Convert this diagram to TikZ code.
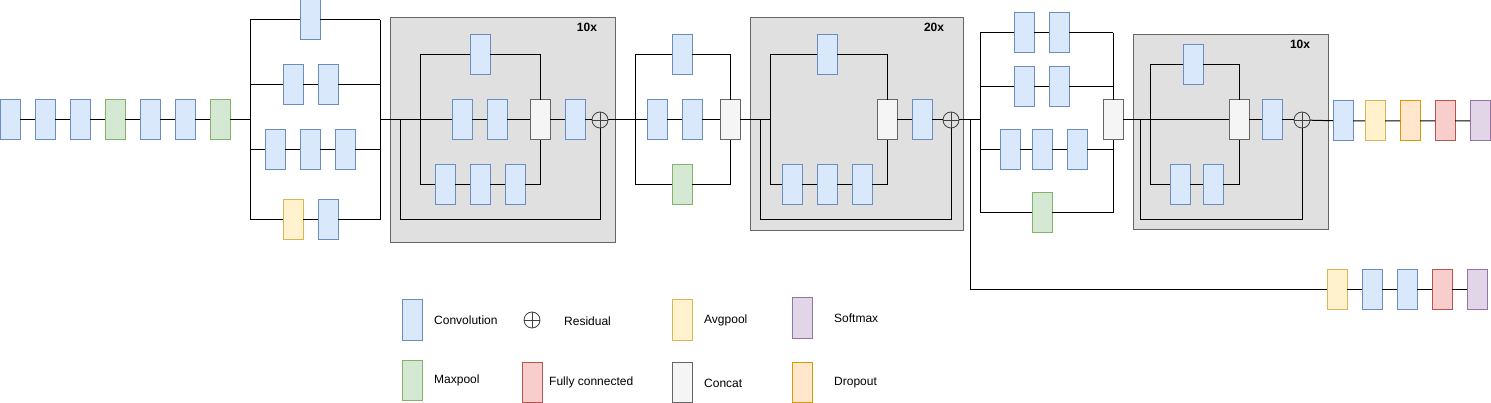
\documentclass[tikz,border=0pt]{standalone}
\usepackage{fontspec}
\setmainfont{Liberation Sans}
\usetikzlibrary{positioning}
\definecolor{convfill}{HTML}{DAE8FC}
\definecolor{convline}{HTML}{6C8EBF}
\definecolor{maxfill}{HTML}{D5E8D4}
\definecolor{maxline}{HTML}{82B366}
\definecolor{avgfill}{HTML}{FFF2CC}
\definecolor{avgline}{HTML}{D6B656}
\definecolor{densefill}{HTML}{F8CECC}
\definecolor{denseline}{HTML}{B85450}
\definecolor{softfill}{HTML}{E1D5E7}
\definecolor{softline}{HTML}{9673A6}
\definecolor{dropfill}{HTML}{FFE6CC}
\definecolor{dropline}{HTML}{D79B00}
\definecolor{catfill}{HTML}{F5F5F5}
\definecolor{catline}{HTML}{666666}
\definecolor{groupfill}{HTML}{E0E0E0}

\begin{document}
\begin{tikzpicture}[
  x=1pt, y=-1pt,
  node distance = 15pt,
  layer/.style = {
    rectangle, minimum width=20pt, minimum height=40pt,
    inner sep=0pt, outer sep=0pt, line width=1pt
  },
  conv/.style = {layer, draw=convline, fill=convfill},
  maxpool/.style = {layer, draw=maxline, fill=maxfill},
  avgpool/.style = {layer, draw=avgline, fill=avgfill},
  dense/.style = {layer, draw=denseline, fill=densefill},
  softmax/.style = {layer, draw=softline, fill=softfill},
  dropout/.style = {layer, draw=dropline, fill=dropfill},
  concat/.style = {layer, draw=catline, fill=catfill},
  res/.style = {
    circle, draw=black!75, line width=0.8pt, minimum size=16pt,
    inner sep=0pt, outer sep=0pt,
    path picture={\draw[black!75, line width=0.8pt]
      (path picture bounding box.north) -- (path picture bounding box.south)
      (path picture bounding box.west) -- (path picture bounding box.east);}
  },
  group/.style = {draw=catline, fill=groupfill, line width=1pt},
  rep/.style = {font=\fontsize{12}{14}\selectfont\bfseries, inner sep=0pt},
  lbl/.style = {font=\fontsize{12}{14}\selectfont, inner sep=0pt},
  wire/.style = {line width=1pt}
]
\useasboundingbox (0,0) rectangle (1491,403);

% repeated blocks
\draw[group] (390,18) rectangle (615,243);
\draw[group] (750,18) rectangle (963,231);
\draw[group] (1133,35) rectangle (1328,230);
\node[rep] (rb) at (587,27) {10x};
\node[rep] (rd) at (934,27) {20x};
\node[rep] (rf) at (1300,44) {10x};

% stem
\node[conv] (s1) at (10,120) {};
\node[conv,    right=of s1] (s2) {};
\node[conv,    right=of s2] (s3) {};
\node[maxpool, right=of s3] (s4) {};
\node[conv,    right=of s4] (s5) {};
\node[conv,    right=of s5] (s6) {};
\node[maxpool, right=of s6] (s7) {};

% inception A (stem)
\coordinate (aTL) at (250,20);  \coordinate (aTR) at (380,20);
\coordinate (a2L) at (250,85);  \coordinate (a2R) at (380,85);
\coordinate (a3L) at (250,150); \coordinate (a3R) at (380,150);
\coordinate (aBL) at (250,220); \coordinate (aBR) at (380,220);
\coordinate (aIn) at (250,120); \coordinate (aOut) at (380,120);
\node[conv] (a1) at (310,20) {};
\node[conv] (a21) at (293,85) {};
\node[conv, right=of a21] (a22) {};
\node[conv] (a31) at (275,150) {};
\node[conv, right=of a31] (a32) {};
\node[conv, right=of a32] (a33) {};
\node[avgpool] (a41) at (293,220) {};
\node[conv, right=of a41] (a42) {};

% residual inception B (10x)
\coordinate (bRes) at (400,120); \coordinate (bResB) at (400,220);
\coordinate (bLT) at (420,55);   \coordinate (bLB) at (420,185);
\coordinate (bRT) at (540,55);   \coordinate (bRB) at (540,185);
\node[conv] (b1) at (480,55) {};
\node[conv] (b21) at (462,120) {};
\node[conv,   right=of b21] (b22) {};
\node[concat, right=23pt of b22] (bcat) {};
\node[conv,   right=of bcat] (b23) {};
\node[res,    right=7pt of b23] (bsum) {};
\coordinate (bResR) at (600,220);
\node[conv] (b31) at (445,185) {};
\node[conv, right=of b31] (b32) {};
\node[conv, right=of b32] (b33) {};

% reduction C
\coordinate (cLT) at (635,55); \coordinate (cLB) at (635,185);
\coordinate (cRT) at (730,55); \coordinate (cRB) at (730,185);
\node[conv] (c1) at (682,55) {};
\node[conv] (c21) at (657,120) {};
\node[conv,   right=of c21] (c22) {};
\node[concat, right=18pt of c22] (ccat) {};
\node[maxpool] (c3) at (682,185) {};

% residual inception D (20x)
\coordinate (dRes) at (760,120); \coordinate (dResB) at (760,220);
\coordinate (dL) at (770,120);
\coordinate (dLT) at (770,55);   \coordinate (dLB) at (770,185);
\coordinate (dRT) at (887,55);   \coordinate (dRB) at (887,185);
\node[conv] (d1) at (827,55) {};
\node[conv] (d31) at (792,185) {};
\node[conv, right=of d31] (d32) {};
\node[conv, right=of d32] (d33) {};
\node[concat] (dcat) at (887,120) {};
\node[conv, right=of dcat] (d2) {};
\node[res,  right=11pt of d2] (dsum) {};
\coordinate (dResR) at (951,220);

% reduction E
\coordinate (eIn) at (980,120);
\coordinate (eLT) at (980,33);  \coordinate (eR1) at (1113,33);
\coordinate (e2L) at (980,87);  \coordinate (eR2) at (1113,87);
\coordinate (e3L) at (980,150); \coordinate (eR3) at (1113,150);
\coordinate (eLB) at (980,213); \coordinate (eR4) at (1113,213);
\node[conv] (e11) at (1024,33) {};
\node[conv, right=of e11] (e12) {};
\node[conv] (e21) at (1024,87) {};
\node[conv, right=of e21] (e22) {};
\node[conv] (e31) at (1010,150) {};
\node[conv, right=12pt of e31] (e32) {};
\node[conv, right=of e32] (e33) {};
\node[maxpool] (e4) at (1042,213) {};
\node[concat] (ecat) at (1113,120) {};

% residual inception F (10x)
\coordinate (fRes) at (1140,120); \coordinate (fResB) at (1140,220);
\coordinate (fLT) at (1150,65);   \coordinate (fLB) at (1150,185);
\coordinate (fRT) at (1239,65);   \coordinate (fRB) at (1239,185);
\node[conv] (f1) at (1193,65) {};
\node[conv] (f31) at (1180,185) {};
\node[conv, right=13pt of f31] (f32) {};
\node[concat] (fcat) at (1239,120) {};
\node[conv, right=13pt of fcat] (f2) {};
\node[res,  right=12pt of f2] (fsum) {};
\coordinate (fResR) at (1302,220);

% main head
\node[conv] (h1) at (1343,121) {};
\node[avgpool, right=12pt of h1] (h2) {};
\node[dropout, right=of h2] (h3) {};
\node[dense,   right=of h3] (h4) {};
\node[softmax, right=of h4] (h5) {};

% auxiliary head
\coordinate (auxT) at (970,120); \coordinate (auxB) at (970,290);
\node[avgpool] (x1) at (1337,290) {};
\node[conv,    right=of x1] (x2) {};
\node[conv,    right=of x2] (x3) {};
\node[dense,   right=of x3] (x4) {};
\node[softmax, right=of x4] (x5) {};

% wires
\draw[wire] (s1)--(s2)--(s3)--(s4)--(s5)--(s6)--(s7)--(aIn);
\draw[wire] (aTL)--(aBL); \draw[wire] (aTR)--(aBR);
\draw[wire] (aTL)--(a1)--(aTR);
\draw[wire] (a2L)--(a21)--(a22)--(a2R);
\draw[wire] (a3L)--(a31)--(a32)--(a33)--(a3R);
\draw[wire] (aBL)--(a41)--(a42)--(aBR);

\draw[wire] (aOut)--(b21)--(b22)--(bcat)--(b23)--(bsum);
\draw[wire] (bLT)--(bLB);
\draw[wire] (bLT)--(b1)--(bRT)--(bcat);
\draw[wire] (bLB)--(b31)--(b32)--(b33)--(bRB)--(bcat);
\draw[wire] (bRes)--(bResB)--(bResR)--(bsum);

\draw[wire] (bsum)--(c21)--(c22)--(ccat);
\draw[wire] (cLT)--(cLB);
\draw[wire] (cLT)--(c1)--(cRT)--(ccat);
\draw[wire] (cLB)--(c3)--(cRB)--(ccat);

\draw[wire] (ccat)--(dL);
\draw[wire] (dLT)--(dLB);
\draw[wire] (dLT)--(d1)--(dRT)--(dcat);
\draw[wire] (dLB)--(d31)--(d32)--(d33)--(dRB)--(dcat);
\draw[wire] (dcat)--(d2)--(dsum);
\draw[wire] (dRes)--(dResB)--(dResR)--(dsum);

\draw[wire] (dsum)--(eIn);
\draw[wire] (eLT)--(eLB);
\draw[wire] (eR1)--(ecat); \draw[wire] (ecat)--(eR4);
\draw[wire] (eLT)--(e11)--(e12)--(eR1);
\draw[wire] (e2L)--(e21)--(e22)--(eR2);
\draw[wire] (e3L)--(e31)--(e32)--(e33)--(eR3);
\draw[wire] (eLB)--(e4)--(eR4);

\draw[wire] (ecat)--(fcat)--(f2)--(fsum);
\draw[wire] (fLT)--(fLB);
\draw[wire] (fLT)--(f1)--(fRT)--(fcat);
\draw[wire] (fLB)--(f31)--(f32)--(fRB)--(fcat);
\draw[wire] (fRes)--(fResB)--(fResR)--(fsum);

\draw[wire] (fsum)--(h1)--(h2)--(h3)--(h4)--(h5);
\draw[wire] (auxT)--(auxB)--(x1)--(x2)--(x3)--(x4)--(x5);

% legend
\node[conv] (lg1) at (412,320) {};
\node[lbl, right=12pt of lg1] (lt1) {Convolution};
\node[res] (lg2) at (532,320) {};
\node[lbl, right=24pt of lg2, yshift=-1.5pt] (lt2) {Residual};
\node[avgpool] (lg3) at (682,320) {};
\node[lbl, right=12pt of lg3] (lt3) {Avgpool};
\node[softmax] (lg4) at (802,318) {};
\node[lbl, right=22pt of lg4] (lt4) {Softmax};
\node[maxpool] (lg5) at (412,380) {};
\node[lbl, right=12pt of lg5] (lt5) {Maxpool};
\node[dense] (lg6) at (532,382) {};
\node[lbl, right=7pt of lg6] (lt6) {Fully connected};
\node[concat] (lg7) at (682,382) {};
\node[lbl, right=12pt of lg7, yshift=-1pt] (lt7) {Concat};
\node[dropout] (lg8) at (802,382) {};
\node[lbl, right=22pt of lg8, yshift=-1pt] (lt8) {Dropout};
\end{tikzpicture}
\end{document}
